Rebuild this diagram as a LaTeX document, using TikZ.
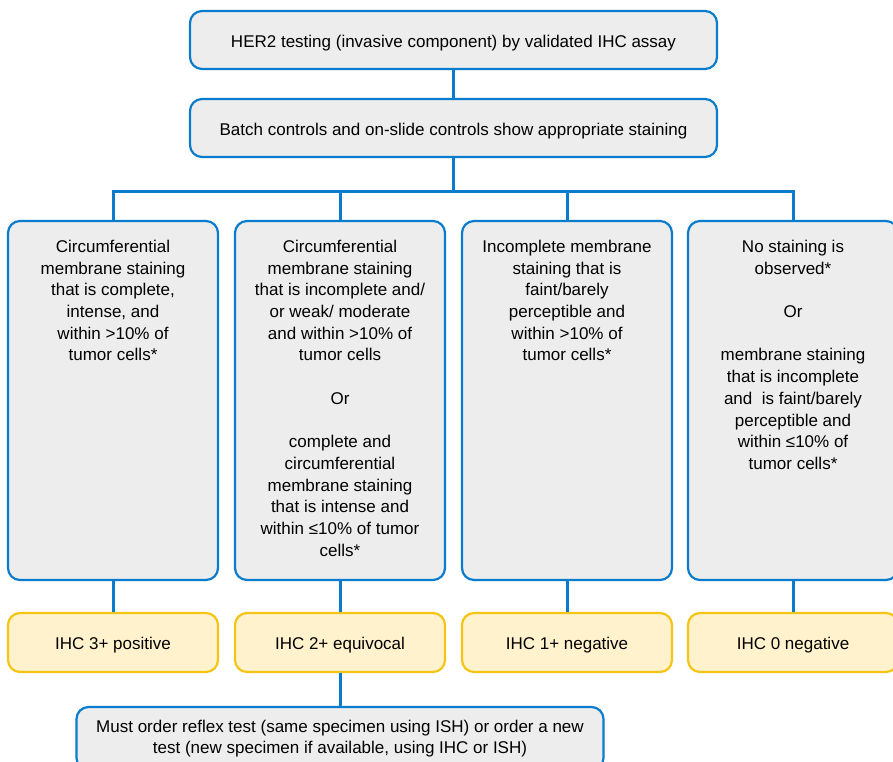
\documentclass[tikz,border=0pt]{standalone}
\usepackage{fontspec}
\setmainfont{Liberation Sans}
\definecolor{hblue}{RGB}{10,124,206}
\definecolor{hgrey}{RGB}{237,237,237}
\definecolor{hyfill}{RGB}{255,242,204}
\definecolor{hyline}{RGB}{246,196,20}
\begin{document}
\begin{tikzpicture}[x=1pt,y=-1pt,
  gbox/.style={draw=hblue, line width=2.2pt, fill=hgrey, rounded corners=12pt, inner sep=0pt},
  ybox/.style={draw=hyline, line width=2.2pt, fill=hyfill, rounded corners=12pt, inner sep=0pt},
  conn/.style={draw=hblue, line width=3pt, line join=miter},
  txt/.style={font=\fontsize{17}{21.7}\selectfont, align=center, inner sep=0pt},
  oneline/.style={text height=14.5pt, text depth=0pt}]
\clip (0,0) rectangle (893,761);
\fill[white] (0,0) rectangle (893,761);
\coordinate (bus) at (453.5,191);
\node[gbox, txt, oneline, minimum width=527pt, minimum height=58pt] (top) at (453.5,40) {HER2 testing (invasive component) by validated IHC assay};
\node[gbox, txt, oneline, minimum width=527pt, minimum height=58pt] (ctrl) at (453.5,128) {Batch controls and on-slide controls show appropriate staining};
\node[gbox, minimum width=210pt, minimum height=359pt] (c1) at (113,400.5) {};
\node[gbox, minimum width=210pt, minimum height=359pt] (c2) at (340,400.5) {};
\node[gbox, minimum width=210pt, minimum height=359pt] (c3) at (567,400.5) {};
\node[gbox, minimum width=210pt, minimum height=359pt] (c4) at (793,400.5) {};
\node[txt, anchor=north] (t1) at ([yshift=-20pt]c1.north) {Circumferential\\membrane staining\\that is complete,\\intense, and\\within >10\% of\\tumor cells*};
\node[txt, anchor=north] (t2) at ([yshift=-20pt]c2.north) {Circumferential\\membrane staining\\that is incomplete and/\\or weak/ moderate\\and within >10\% of\\tumor cells\\[21.7pt]Or\\[21.7pt]complete and\\circumferential\\membrane staining\\that is intense and\\within ≤10\% of tumor\\cells*};
\node[txt, anchor=north] (t3) at ([yshift=-20pt]c3.north) {Incomplete membrane\\staining that is\\faint/barely\\perceptible and\\within >10\% of\\tumor cells*};
\node[txt, anchor=north] (t4) at ([yshift=-20pt]c4.north) {No staining is\\observed*\\[21.7pt]Or\\[21.7pt]membrane staining\\that is incomplete\\and\ \ is faint/barely\\perceptible and\\within ≤10\% of\\tumor cells*};
\node[ybox, txt, oneline, minimum width=210pt, minimum height=59pt] (y1) at (113,642.5) {IHC 3+ positive};
\node[ybox, txt, oneline, minimum width=210pt, minimum height=59pt] (y2) at (340,642.5) {IHC 2+ equivocal};
\node[ybox, txt, oneline, minimum width=210pt, minimum height=59pt] (y3) at (567,642.5) {IHC 1+ negative};
\node[ybox, txt, oneline, minimum width=210pt, minimum height=59pt] (y4) at (793,642.5) {IHC 0 negative};
\node[gbox, txt, minimum width=527pt, minimum height=63pt] (rf) at (340,738.5) {Must order reflex test (same specimen using ISH) or order a new\\test (new specimen if available, using IHC or ISH)};
\draw[conn] (top.south) -- (ctrl.north);
\draw[conn] (ctrl.south) -- (bus);
\draw[conn] (c1.north) -- (c1.north |- bus) -- (c4.north |- bus) -- (c4.north);
\draw[conn] (c2.north) -- (c2.north |- bus);
\draw[conn] (c3.north) -- (c3.north |- bus);
\draw[conn] (c1.south) -- (y1.north);
\draw[conn] (c2.south) -- (y2.north);
\draw[conn] (c3.south) -- (y3.north);
\draw[conn] (c4.south) -- (y4.north);
\draw[conn] (y2.south) -- (rf.north);
\end{tikzpicture}
\end{document}
